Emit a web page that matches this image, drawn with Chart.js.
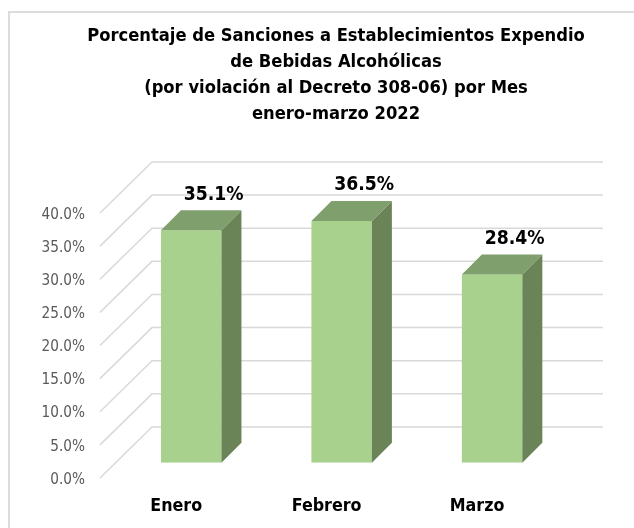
<!DOCTYPE html>
<html>
<head>
<meta charset="utf-8">
<script src="https://cdn.jsdelivr.net/npm/chart.js@4/dist/chart.umd.min.js"></script>
<style>
  html, body { margin: 0; padding: 0; background: #fff; }
  #wrap { width: 634px; height: 528px; position: relative; }
</style>
</head>
<body>
<div id="wrap"><canvas id="chart"></canvas></div>
<script>
var months = ['Enero', 'Febrero', 'Marzo'];
var percents = [35.1, 36.5, 28.4];
var titleLines = [
  'Porcentaje de Sanciones a Establecimientos Expendio',
  'de Bebidas Alcohólicas',
  '(por violación al Decreto 308-06) por Mes',
  'enero-marzo 2022'
];

var FONT = '"DejaVu Sans Condensed", "DejaVu Sans", sans-serif';
var DEPTH = 20;

// back wall and left wall lines of the fake 3D box
var wallLines = {
  id: 'wallLines',
  beforeDatasetsDraw: function (chart) {
    var ctx = chart.ctx, y = chart.scales.y;
    ctx.save();
    ctx.strokeStyle = '#d9d9d9';
    ctx.lineWidth = 1.5;
    y.ticks.forEach(function (t) {
      var py = y.getPixelForValue(t.value);
      ctx.beginPath();
      ctx.moveTo(100, py + 15.3);
      ctx.lineTo(152, py - 35.7);
      ctx.lineTo(603, py - 35.7);
      ctx.stroke();
    });
    ctx.restore();
  }
};

// top and side faces of each bar, plus the value labels
var barFaces = {
  id: 'barFaces',
  afterDatasetsDraw: function (chart) {
    var ctx = chart.ctx;
    var bars = chart.getDatasetMeta(0).data;
    ctx.save();
    bars.forEach(function (bar, i) {
      var left = bar.x - bar.width / 2, right = bar.x + bar.width / 2;
      ctx.fillStyle = '#6a8458';
      ctx.beginPath();
      ctx.moveTo(right, bar.y);
      ctx.lineTo(right + DEPTH, bar.y - DEPTH);
      ctx.lineTo(right + DEPTH, bar.base - DEPTH);
      ctx.lineTo(right, bar.base);
      ctx.closePath();
      ctx.fill();
      ctx.fillStyle = '#7f9f6c';
      ctx.beginPath();
      ctx.moveTo(left, bar.y);
      ctx.lineTo(left + DEPTH, bar.y - DEPTH);
      ctx.lineTo(right + DEPTH, bar.y - DEPTH);
      ctx.lineTo(right, bar.y);
      ctx.closePath();
      ctx.fill();
      ctx.fillStyle = '#000';
      ctx.font = 'bold 19.2px ' + FONT;
      ctx.textAlign = 'center';
      ctx.textBaseline = 'middle';
      ctx.fillText(percents[i].toFixed(1) + '%', bar.x + 22.5, bar.y - 35.5);
    });
    ctx.restore();
  }
};

// light frame around the chart, open on the right and bottom
var frame = {
  id: 'frame',
  beforeDraw: function (chart) {
    var ctx = chart.ctx;
    ctx.save();
    ctx.strokeStyle = '#dcdcdc';
    ctx.lineWidth = 2;
    ctx.beginPath();
    ctx.moveTo(9, 528);
    ctx.lineTo(9, 12);
    ctx.lineTo(634, 12);
    ctx.stroke();
    ctx.restore();
  }
};

new Chart(document.getElementById('chart'), {
  type: 'bar',
  data: {
    labels: months,
    datasets: [{
      data: percents,
      backgroundColor: '#a9d18e',
      barPercentage: 0.402,
      categoryPercentage: 1
    }]
  },
  options: {
    responsive: true,
    maintainAspectRatio: false,
    animation: false,
    layout: { padding: { left: 38, right: 0, top: 22.7, bottom: 0 } },
    plugins: {
      legend: { display: false },
      tooltip: { enabled: false },
      title: {
        display: true,
        text: titleLines,
        color: '#000',
        font: { family: FONT, size: 18.2, weight: 'bold', lineHeight: 1.445 },
        padding: { top: 0, bottom: 69.8 }
      }
    },
    scales: {
      x: {
        grid: { display: false, drawTicks: false },
        border: { display: false },
        ticks: {
          color: '#000',
          font: { family: FONT, size: 17.7, weight: 'bold' },
          padding: 33,
          labelOffset: -15,
          maxRotation: 0
        },
        afterFit: function (s) { s.height = 65.3; }
      },
      y: {
        min: 0,
        max: 40,
        grid: { display: false, drawTicks: false },
        border: { display: false },
        ticks: {
          stepSize: 5,
          color: '#595959',
          font: { family: FONT, size: 15.2 },
          padding: 31,
          labelOffset: 17,
          callback: function (v) { return v.toFixed(1) + '%'; }
        },
        afterFit: function (s) { s.width = 78; }
      },
      // empty axis that only reserves the space right of the plot
      spacer: {
        position: 'right',
        display: true,
        grid: { display: false, drawTicks: false },
        border: { display: false },
        ticks: { display: false },
        afterFit: function (s) { s.width = 66.7; }
      }
    }
  },
  plugins: [frame, wallLines, barFaces]
});
</script>
</body>
</html>
